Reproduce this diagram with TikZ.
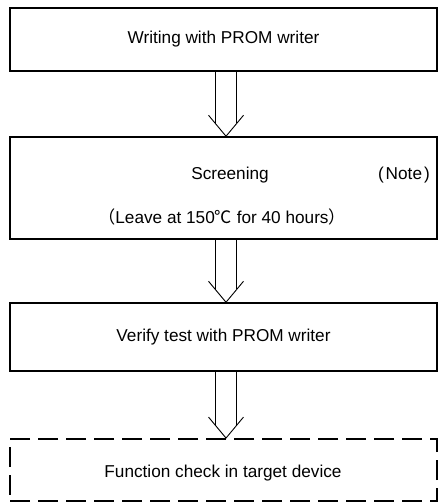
\documentclass[tikz,border=0pt]{standalone}
\usepackage{fontspec}
\setmainfont{Liberation Sans}
\newfontfamily\cjk{Noto Sans CJK JP}
\usetikzlibrary{calc}
\tikzset{
  box/.style={draw=black, line width=1.5pt, minimum width=427pt, inner sep=0pt, font=\fontsize{17.2}{20}\selectfont},
  dbox/.style={box, line width=1.9pt, dash pattern=on 20pt off 8pt, dash phase=0pt},
  lbl/.style={inner sep=0pt, font=\fontsize{17.2}{20}\selectfont},
  arr/.style={draw=black, line width=0.9pt, line join=miter},
}
\begin{document}
\begin{tikzpicture}[x=1pt,y=1pt]
\useasboundingbox[fill=white] (0,0) rectangle (438,-503);
% boxes
\node[box, minimum height=63pt] (b1) at (223.5,-39.5) {Writing with PROM writer};
\node[box, minimum height=102pt] (b2) at (223.5,-188) {};
\node[lbl] (s1) at (230,-175) {Screening};
\node[lbl, anchor=east] (s2) at (430,-175) {(\kern2pt Note\kern2pt)};
\node[lbl] (s3) at (222,-217) {{\cjk （}Leave at 150{\cjk ℃} for 40 hours{\cjk ）}};
\node[box, minimum height=68pt] (b3) at (223.5,-337) {Verify test with PROM writer};
\node[dbox, minimum height=62pt] (b4) at (223.5,-470) {};
\node[lbl] (t4) at (223,-473) {Function check in target device};
% hollow arrows
\foreach \a/\b in {b1/b2, b2/b3, b3/b4}{
  \draw[arr] ([xshift=-8pt]\a.south) -- ([xshift=-8pt,yshift=13pt]\b.north);
  \draw[arr] ([xshift=13pt]\a.south) -- ([xshift=13pt,yshift=13pt]\b.north);
  \draw[arr] ([xshift=-15pt,yshift=21pt]\b.north) -- ([xshift=2.5pt]\b.north) -- ([xshift=20pt,yshift=21pt]\b.north);
}
\end{tikzpicture}
\end{document}
